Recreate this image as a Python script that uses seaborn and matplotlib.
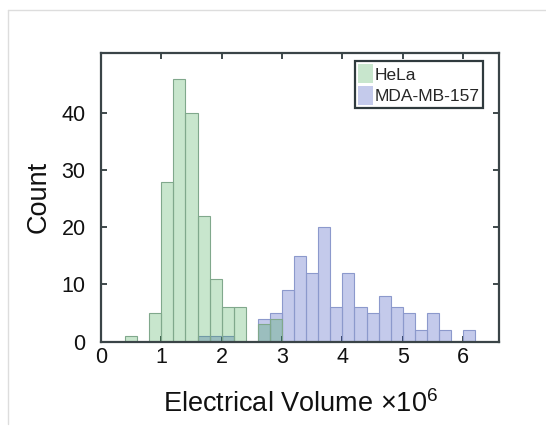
import pandas as pd
import matplotlib
matplotlib.use("Agg")
import matplotlib.pyplot as plt
import seaborn as sns
from matplotlib.patches import Patch
from matplotlib.lines import Line2D

# Histogram counts per 0.2 bin, bins starting at 0.4 (units of 1e6)
bin_start = 0.4
bin_width = 0.2
hela_counts = [1, 0, 5, 28, 46, 40, 22, 11, 6, 6, 0, 3, 4, 0, 0,
               0, 0, 0, 0, 0, 0, 0, 0, 0, 0, 0, 0, 0, 0]
mda_counts = [0, 0, 0, 0, 0, 0, 1, 1, 1, 0, 0, 4, 5, 9, 15,
              12, 20, 6, 12, 6, 5, 8, 6, 5, 2, 5, 2, 0, 2]
series_names = ["HeLa", "MDA-MB-157"]
x_ticks = [0, 1, 2, 3, 4, 5, 6]
y_ticks = [0, 10, 20, 30, 40]

sns.set_theme(style="white")
plt.rcParams["font.family"] = ["Liberation Sans", "DejaVu Sans"]
plt.rcParams["mathtext.fontset"] = "custom"
plt.rcParams["mathtext.rm"] = "Liberation Sans"
plt.rcParams["mathtext.it"] = "Liberation Sans:italic"

n_bins = len(hela_counts)
edges = [round(bin_start + bin_width * i, 6) for i in range(n_bins + 1)]
centers = [(edges[i] + edges[i + 1]) / 2 for i in range(n_bins)]
hela_df = pd.DataFrame({"volume": centers, "count": hela_counts})
mda_df = pd.DataFrame({"volume": centers, "count": mda_counts})

green = (0.14, 0.61, 0.22)
blue = (0.09, 0.18, 0.69)
alpha = 0.25

fig = plt.figure(figsize=(5.46, 4.28), dpi=100)
ax = fig.add_axes([0.185, 0.2021, 0.7295, 0.6740])

sns.histplot(data=mda_df, x="volume", weights="count", bins=edges, color=blue,
             alpha=alpha, edgecolor=(0.55, 0.6, 0.8), linewidth=0.8, ax=ax)
sns.histplot(data=hela_df, x="volume", weights="count", bins=edges, color=green,
             alpha=alpha, edgecolor=(0.5, 0.66, 0.55), linewidth=0.8, ax=ax)

ax.set_xlim(0, 6.6)
ax.set_ylim(0, 50.5)
ax.set_xticks(x_ticks)
ax.set_yticks(y_ticks)
ax.set_xticklabels([str(t) for t in x_ticks])
ax.set_yticklabels([str(t) for t in y_ticks])
ax.tick_params(axis="both", which="both", direction="in", length=4, width=1.3,
               color="#2f3a3d", labelsize=15.5, top=True, right=True,
               bottom=True, left=True, labelcolor="#111111")
ax.tick_params(axis="x", pad=4)
ax.tick_params(axis="y", pad=11)
for side in ["left", "right", "top", "bottom"]:
    ax.spines[side].set_visible(True)
    ax.spines[side].set_color("#3a4447")
    ax.spines[side].set_linewidth(1.6)

ax.set_xlabel("Electrical Volume $\\mathregular{\\times10^6}$", fontsize=19.5,
              color="#111111", labelpad=16)
ax.set_ylabel("Count", fontsize=19.5, color="#111111", labelpad=7)

handles = [Patch(facecolor=green, alpha=alpha, edgecolor="none"),
           Patch(facecolor=blue, alpha=alpha, edgecolor="none")]
leg = ax.legend(handles, series_names, loc="upper right",
                bbox_to_anchor=(0.968, 0.985), fontsize=12.5,
                frameon=True, fancybox=False, borderpad=0.2,
                handlelength=0.85, handleheight=1.3, handletextpad=0.1,
                labelspacing=0.15, borderaxespad=0.2)
leg.get_frame().set_edgecolor("#2f3a3d")
leg.get_frame().set_linewidth(1.6)
leg.get_frame().set_alpha(1)

# Light frame lines along the top and left of the canvas
fig.add_artist(Line2D([8 / 546, 1], [1 - 10 / 428, 1 - 10 / 428],
                      transform=fig.transFigure, color="#dddddd", lw=1))
fig.add_artist(Line2D([8 / 546, 8 / 546], [0.01, 1 - 10 / 428],
                      transform=fig.transFigure, color="#dddddd", lw=1))

fig.savefig("out.png", dpi=100, facecolor="white")
